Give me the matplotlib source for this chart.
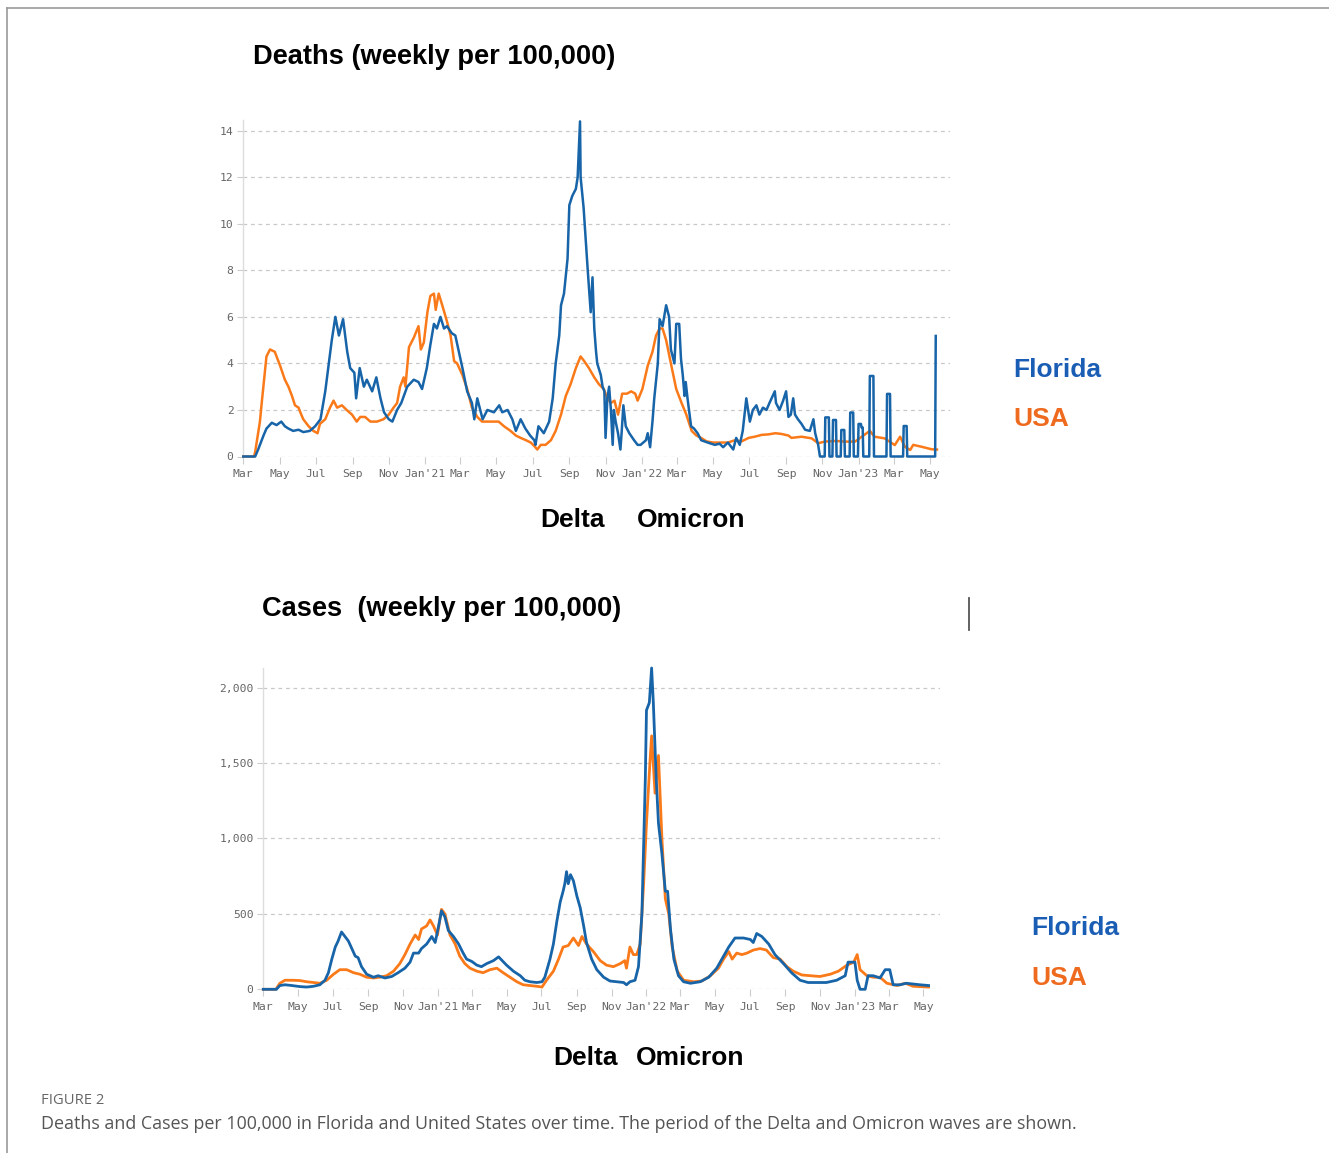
import matplotlib
matplotlib.use("Agg")
import matplotlib.pyplot as plt
import pandas as pd
import numpy as np
from matplotlib.lines import Line2D

# ---------------- data (day offset from 2020-03-01, value) ----------------
fl_death_day = [0,20,25,34,39,48,56,64,70,76,84,93,101,112,121,130,138,143,149,155,161,168,175,180,187,190,196,203,208,217,224,231,237,245,251,259,266,276,287,295,301,309,315,321,326,332,338,343,351,357,363,369,377,385,389,394,403,411,422,431,436,445,453,459,467,475,483,490,492,497,506,515,521,526,532,535,540,546,549,554,560,563,567,568,573,580,585,588,591,594,596,602,605,608,610,613,616,619,622,624,627,631,635,637,640,644,650,658,664,669,678,681,685,689,692,698,701,706,712,717,720,726,729,734,737,740,743,745,748,754,759,765,771,782,794,802,808,816,825,830,836,841,847,853,858,864,869,875,881,886,895,897,903,909,914,918,922,926,929,934,940,946,954,960,963,968,971,979,980,986,987,992,993,998,999,1006,1007,1012,1013,1021,1022,1027,1028,1035,1036,1040,1041,1043,1044,1054,1055,1061,1062,1083,1084,1089,1090,1111,1112,1117,1118,1165,1166]
fl_death_val = [0,0,0.3,0.9,1.2,1.45,1.35,1.5,1.3,1.2,1.1,1.15,1.05,1.1,1.3,1.6,2.8,3.8,5.0,6.0,5.2,5.9,4.5,3.8,3.6,2.5,3.8,3.0,3.3,2.8,3.4,2.5,1.9,1.6,1.5,2.0,2.3,3.0,3.3,3.2,2.9,3.8,4.8,5.7,5.5,6.0,5.5,5.6,5.3,5.2,4.5,3.8,2.8,2.3,1.6,2.5,1.6,2.0,1.9,2.2,1.9,2.0,1.6,1.1,1.6,1.2,0.9,0.7,0.5,1.3,1.0,1.5,2.5,4.0,5.2,6.5,7.0,8.5,10.8,11.2,11.5,12.0,14.4,12.0,10.7,8.0,6.2,7.7,5.5,4.5,4.0,3.5,3.0,2.8,0.8,2.5,3.0,2.0,0.5,2.0,1.5,1.0,0.3,1.0,2.2,1.3,1.0,0.7,0.5,0.5,0.7,1.0,0.4,1.5,2.5,4.0,5.9,5.6,6.5,6.0,4.6,4.0,5.7,5.7,4.2,3.5,2.6,3.2,2.5,1.3,1.2,1.0,0.7,0.6,0.5,0.55,0.4,0.6,0.3,0.8,0.5,1.1,2.5,1.5,2.0,2.2,1.8,2.1,2.0,2.3,2.8,2.3,2.0,2.4,2.8,1.7,1.8,2.5,1.8,1.6,1.4,1.15,1.1,1.6,1.0,0.5,0,0,1.68,1.68,0,0,1.57,1.57,0,0,1.14,1.14,0,0,1.89,1.89,0,0,1.4,1.4,1.25,1.25,0,0,3.46,3.46,0,0,2.69,2.69,0,0,1.31,1.31,0,0,5.18]

us_death_day = [0,18,20,28,31,39,45,53,62,70,76,82,87,93,96,101,110,118,125,129,138,146,152,158,166,174,183,191,197,205,214,225,236,245,253,259,264,270,273,279,287,295,299,304,310,315,321,324,329,335,343,349,355,360,369,377,385,394,402,416,430,439,450,459,467,476,484,490,495,501,509,518,526,535,543,551,560,568,574,582,591,599,607,613,619,625,631,638,646,653,660,664,672,681,689,695,701,706,712,720,729,738,746,755,763,771,780,791,805,816,828,839,851,861,873,884,896,906,918,923,940,957,968,979,997,1013,1030,1055,1063,1080,1097,1106,1114,1123,1128,1142,1159,1168]
us_death_val = [0,0,0.2,1.5,2.3,4.3,4.6,4.5,3.9,3.3,3.0,2.6,2.2,2.1,1.9,1.6,1.3,1.1,1.0,1.4,1.6,2.1,2.4,2.1,2.2,2.0,1.8,1.5,1.7,1.7,1.5,1.5,1.6,1.8,2.1,2.3,3.0,3.4,3.0,4.7,5.1,5.6,4.6,4.9,6.2,6.9,7.0,6.3,7.0,6.5,5.8,5.2,4.1,4.0,3.5,2.9,2.1,1.7,1.5,1.5,1.5,1.3,1.1,0.9,0.8,0.7,0.6,0.45,0.3,0.5,0.5,0.7,1.1,1.8,2.6,3.1,3.8,4.3,4.1,3.8,3.4,3.1,2.9,2.5,2.3,2.4,1.8,2.7,2.7,2.8,2.7,2.4,2.9,3.9,4.5,5.2,5.5,5.5,5.0,4.0,2.9,2.3,1.8,1.1,0.9,0.8,0.65,0.6,0.6,0.6,0.7,0.65,0.8,0.85,0.93,0.95,1.0,0.97,0.9,0.8,0.85,0.78,0.57,0.64,0.67,0.64,0.64,1.1,0.85,0.78,0.49,0.85,0.42,0.28,0.5,0.42,0.31,0.3]

fl_case_day = [0,23,29,38,50,64,76,88,99,108,114,120,126,131,137,143,149,155,161,166,172,181,193,201,213,225,236,248,257,263,272,277,286,295,301,307,312,318,324,333,342,350,356,365,374,382,391,403,412,417,426,438,450,458,467,479,488,493,502,508,514,520,525,528,531,534,538,543,549,555,561,566,575,584,596,607,619,631,636,642,651,657,663,669,671,676,680,683,688,692,698,704,708,713,719,727,736,748,765,780,794,806,815,826,841,853,858,864,873,885,896,911,925,940,954,969,986,1004,1019,1024,1036,1040,1045,1054,1059,1068,1080,1089,1097,1103,1115,1126,1138,1150,1165]
fl_case_val = [0,0,25,30,25,18,15,20,30,60,110,200,280,320,380,350,320,270,220,210,150,100,80,90,75,85,110,140,180,240,240,270,300,350,310,420,520,480,390,350,300,240,200,185,160,150,170,190,215,195,160,120,90,60,50,45,50,80,200,300,450,580,650,700,780,700,760,720,620,540,420,310,200,130,80,55,50,45,30,50,60,150,500,1400,1850,1900,2130,1900,1400,1100,900,650,650,400,200,90,50,40,50,80,140,220,280,340,340,330,310,370,350,300,230,170,110,60,45,45,45,60,90,180,180,60,0,0,90,90,75,130,130,30,30,40,35,30,25]

us_case_day = [0,22,29,38,50,64,76,88,99,111,123,134,146,158,169,181,193,204,216,228,239,248,257,266,272,277,286,292,298,305,312,318,327,336,344,353,362,374,385,397,409,420,432,444,455,467,479,488,496,508,517,525,534,543,552,558,566,578,590,601,613,625,633,636,642,648,654,660,666,671,677,680,686,692,698,704,710,716,725,736,754,768,783,797,806,815,821,829,838,847,858,870,881,893,905,917,928,943,958,975,993,1007,1022,1034,1040,1045,1057,1068,1080,1092,1110,1124,1138,1165]
us_case_val = [0,0,40,60,60,58,50,45,40,60,100,130,130,110,100,80,75,80,90,120,170,230,300,360,330,400,420,460,420,360,530,500,360,300,220,170,140,120,110,130,140,110,80,50,30,25,20,15,60,120,200,280,290,340,290,350,300,250,190,160,150,170,190,140,280,230,230,300,700,1100,1500,1680,1300,1550,1000,600,500,280,120,60,50,55,90,140,200,250,200,240,230,240,260,270,260,210,200,150,120,95,90,85,100,120,160,180,230,130,90,80,80,40,25,40,20,15]

death_ticks = [0, 2, 4, 6, 8, 10, 12, 14]
case_ticks = [0, 500, 1000, 1500, 2000]
case_tick_labels = ["0", "500", "1,000", "1,500", "2,000"]

START = pd.Timestamp("2020-03-01")
month_ticks = pd.date_range("2020-03-01", "2023-05-01", freq="2MS")
month_labels = [(d.strftime("%b") + "'" + d.strftime("%y")) if d.month == 1 else d.strftime("%b")
                for d in month_ticks]

BLUE = "#1764a8"
ORANGE = "#fa7a1a"
TXT_BLUE = "#1a5db5"
TXT_ORANGE = "#ee6a1e"

W, H = 1329, 1153
fig = plt.figure(figsize=(W / 100, H / 100), dpi=100)
fig.patch.set_facecolor("white")


def px(x, y):
    return x / W, 1 - y / H


def to_dates(days):
    return START + pd.to_timedelta(np.asarray(days), unit="D")


def style_axes(ax, yticks, ylabels, xmax_day, ymax):
    ax.set_xlim(START, START + pd.Timedelta(days=xmax_day))
    ax.set_ylim(0, ymax)
    ax.set_yticks(yticks)
    ax.set_yticklabels(ylabels)
    ax.set_xticks(month_ticks)
    ax.set_xticklabels(month_labels)
    for s in ["top", "right", "bottom"]:
        ax.spines[s].set_visible(False)
    ax.spines["left"].set_color("#dddddd")
    ax.spines["left"].set_linewidth(1.0)
    ax.grid(axis="y", linestyle=(0, (3, 3)), color="#c8c8c8", linewidth=0.9)
    ax.set_axisbelow(True)
    ax.tick_params(axis="x", length=5, width=0.8, color="#cccccc", pad=4,
                   labelsize=8.2, labelcolor="#666666")
    ax.tick_params(axis="y", length=4, width=0.8, color="#cccccc", pad=3,
                   labelsize=8.2, labelcolor="#666666")
    for lab in ax.get_xticklabels() + ax.get_yticklabels():
        lab.set_family("DejaVu Sans Mono")


LW = 1.8

# ---------------- top: deaths ----------------
l, b = px(243.3, 456.5)
r, t = px(950, 120)
ax1 = fig.add_axes([l, b, r - l, t - b])
ax1.plot(to_dates(us_death_day), us_death_val, color=ORANGE, lw=LW, clip_on=False, zorder=3)
ax1.plot(to_dates(fl_death_day), fl_death_val, color=BLUE, lw=LW, clip_on=False, zorder=4)
style_axes(ax1, death_ticks, [str(v) for v in death_ticks], 1190, 14.46)

# ---------------- bottom: cases ----------------
l, b = px(263.3, 989.3)
r, t = px(940, 668)
ax2 = fig.add_axes([l, b, r - l, t - b])
ax2.plot(to_dates(us_case_day), us_case_val, color=ORANGE, lw=LW + 0.2, clip_on=False, zorder=3)
ax2.plot(to_dates(fl_case_day), fl_case_val, color=BLUE, lw=LW + 0.2, clip_on=False, zorder=4)
style_axes(ax2, case_ticks, case_tick_labels, 1185, 2130)

# ---------------- texts ----------------
bold = dict(family="Liberation Sans", weight="bold", va="center", ha="left")
fig.text(*px(253, 57), "Deaths (weekly per 100,000)", fontsize=19.6, color="black", **bold)
fig.text(*px(262, 609), "Cases  (weekly per 100,000)", fontsize=19.6, color="black", **bold)
fig.text(*px(540, 520), "Delta", fontsize=19, color="black", **bold)
fig.text(*px(637, 520), "Omicron", fontsize=19, color="black", **bold)
fig.text(*px(553, 1058), "Delta", fontsize=19, color="black", **bold)
fig.text(*px(636, 1058), "Omicron", fontsize=19, color="black", **bold)
fig.text(*px(1013, 370), "Florida", fontsize=19, color=TXT_BLUE, **bold)
fig.text(*px(1013, 419), "USA", fontsize=19, color=TXT_ORANGE, **bold)
fig.text(*px(1031, 928), "Florida", fontsize=19, color=TXT_BLUE, **bold)
fig.text(*px(1031, 978), "USA", fontsize=19, color=TXT_ORANGE, **bold)

fig.text(*px(41, 1101), "FIGURE 2", fontsize=10.6, color="#666666", family="Open Sans",
         va="center", ha="left")
fig.text(*px(41, 1124),
         "Deaths and Cases per 100,000 in Florida and United States over time. "
         "The period of the Delta and Omicron waves are shown.",
         fontsize=12.9, color="#555555", family="Open Sans", va="center", ha="left")

# frame lines and stray mark
fig.add_artist(Line2D([7 / W, 7 / W], [0, 1 - 8 / H], transform=fig.transFigure,
                      color="#9a9a9a", lw=1.2))
fig.add_artist(Line2D([7 / W, 1], [1 - 8 / H, 1 - 8 / H], transform=fig.transFigure,
                      color="#9a9a9a", lw=1.2))
fig.add_artist(Line2D([969 / W, 969 / W], [1 - 598 / H, 1 - 630 / H], transform=fig.transFigure,
                      color="#555555", lw=1.3))

fig.savefig("out.png", dpi=100, facecolor="white")
